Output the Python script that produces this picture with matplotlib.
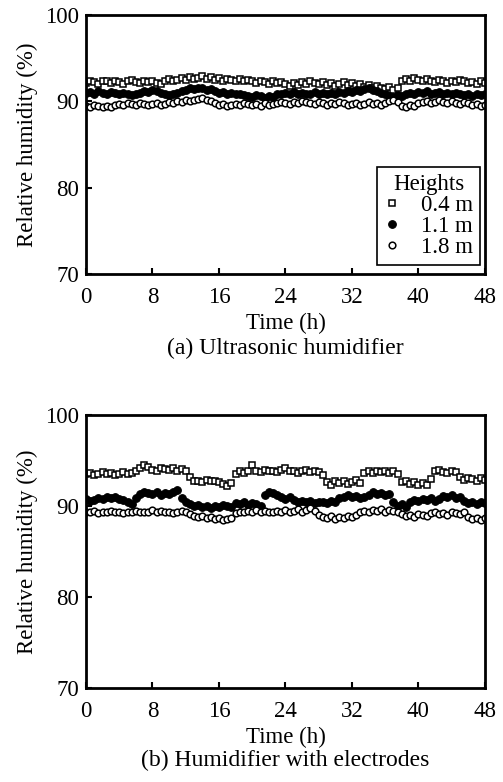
import matplotlib
matplotlib.use("Agg")
import matplotlib.pyplot as plt
import numpy as np

plt.rcParams['font.family'] = ['Liberation Serif', 'DejaVu Serif']

# time axis (h), one reading every 30 min
time_h = np.arange(0, 48.5, 0.5)

# (a) Ultrasonic humidifier
a_04 = [92.1, 92.4, 92.2, 92.0, 92.3, 92.4, 92.1, 92.3,
        92.2, 92.0, 92.3, 92.5, 92.2, 92.1, 92.4, 92.2,
        92.3, 92.1, 92.0, 92.4, 92.6, 92.3, 92.5, 92.7,
        92.5, 92.8, 92.6, 92.7, 92.9, 92.6, 92.8, 92.5,
        92.7, 92.4, 92.6, 92.5, 92.3, 92.6, 92.4, 92.5,
        92.3, 92.1, 92.4, 92.2, 92.0, 92.3, 92.1, 92.2,
        92.0, 91.8, 92.1, 91.9, 92.2, 92.0, 92.3, 92.1,
        92.0, 92.2, 91.9, 92.1, 91.8, 92.0, 92.2, 91.9,
        92.1, 91.8, 92.0, 91.7, 91.9, 91.6, 91.8, 91.5,
        91.4, 91.7, 91.3, 91.6, 92.3, 92.6, 92.4, 92.7,
        92.5, 92.3, 92.6, 92.4, 92.2, 92.5, 92.3, 92.1,
        92.4, 92.2, 92.5, 92.3, 92.1, 92.2, 92.0, 92.3,
        92.1]
a_11 = [91.0, 91.1, 90.9, 91.2, 91.0, 90.8, 91.1, 91.0,
        90.9, 91.0, 90.8, 90.7, 90.9, 91.0, 91.2, 91.1,
        91.3, 91.2, 91.0, 90.8, 90.7, 90.9, 91.0, 91.2,
        91.3, 91.5, 91.4, 91.6, 91.5, 91.3, 91.4, 91.2,
        91.0, 91.1, 90.9, 91.0, 90.8, 90.9, 90.7, 90.6,
        90.5, 90.7, 90.6, 90.4, 90.6, 90.5, 90.8, 90.9,
        91.0, 90.8, 91.1, 90.9, 91.0, 90.8, 90.9, 91.1,
        90.9, 91.0, 90.8, 91.0, 90.9, 91.1, 91.0, 91.2,
        91.1, 91.3, 91.2, 91.4, 91.5, 91.3, 91.2, 91.0,
        90.8, 90.6, 90.5, 90.7, 90.6, 90.8, 91.0, 90.9,
        91.1, 91.0, 91.2, 90.9, 91.0, 91.1, 90.9, 91.0,
        90.8, 91.0, 90.9, 90.7, 90.8, 90.6, 90.8, 90.7,
        90.8]
a_18 = [89.5, 89.4, 89.6, 89.5, 89.3, 89.5, 89.4, 89.6,
        89.7, 89.6, 89.8, 89.7, 89.6, 89.8, 89.7, 89.6,
        89.7, 89.8, 89.6, 89.7, 89.9, 89.8, 90.0, 89.9,
        90.1, 90.0, 90.2, 90.3, 90.4, 90.2, 90.0, 89.8,
        89.6, 89.7, 89.5, 89.6, 89.7, 89.6, 89.8, 89.7,
        89.6, 89.7, 89.5, 89.8, 89.6, 89.7, 89.8, 89.9,
        89.8, 89.7, 89.9, 89.8, 90.0, 89.9, 89.8, 89.7,
        89.9, 89.8, 89.6, 89.8, 89.7, 89.9, 89.8, 89.6,
        89.7, 89.8, 89.6, 89.7, 89.9, 89.7, 89.8, 89.6,
        89.8, 90.0, 90.1, 89.9, 89.5, 89.4, 89.6, 89.5,
        89.8, 89.9, 90.0, 89.8, 89.9, 90.1, 89.9, 89.8,
        90.0, 89.8, 89.7, 89.9, 89.8, 89.6, 89.7, 89.5,
        89.6]

# (b) Humidifier with electrodes
b_04 = [93.5, 93.6, 93.4, 93.5, 93.7, 93.5, 93.6, 93.4,
        93.5, 93.7, 93.5, 93.6, 93.9, 94.2, 94.5, 94.3,
        94.0, 93.9, 94.2, 94.1, 94.0, 94.2, 93.9, 94.1,
        93.8, 93.2, 92.7, 92.8, 92.6, 92.9, 92.7, 92.8,
        92.6, 92.4, 92.2, 92.5, 93.5, 93.8, 93.6, 93.9,
        94.5, 93.9, 93.7, 94.0, 93.8, 93.9, 93.7, 94.0,
        94.2, 93.8, 93.9, 93.6, 93.8, 94.0, 93.7, 93.9,
        93.7, 93.4, 92.6, 92.3, 92.8, 92.5, 92.7, 92.4,
        92.6, 92.9, 92.5, 93.6, 93.8, 93.6, 93.9, 93.7,
        93.9, 93.6, 93.8, 93.5, 92.6, 92.8, 92.4, 92.6,
        92.3, 92.5, 92.3, 93.0, 93.8, 94.0, 93.7, 93.6,
        93.9, 93.7, 93.2, 92.9, 93.1, 93.0, 92.8, 93.1,
        92.9]
b_11 = [90.8, 90.6, 90.7, 90.9, 90.8, 91.0, 90.9, 91.0,
        90.8, 90.7, 90.5, 90.2, 90.9, 91.3, 91.6, 91.4,
        91.3, 91.5, 91.2, 91.4, 91.3, 91.6, 91.8, 90.9,
        90.4, 90.2, 90.0, 90.1, 89.9, 90.0, 89.8, 90.0,
        89.9, 90.1, 90.0, 89.9, 90.3, 90.2, 90.4, 90.1,
        90.3, 90.2, 90.0, 91.2, 91.5, 91.4, 91.2, 91.0,
        90.8, 91.0, 90.7, 90.5, 90.6, 90.4, 90.6, 90.3,
        90.5, 90.4, 90.3, 90.6, 90.5, 90.9, 91.0, 91.2,
        91.0, 91.1, 90.9, 91.0, 91.2, 91.5, 91.3, 91.4,
        91.2, 91.3, 90.4, 90.0, 90.2, 89.9, 90.4, 90.7,
        90.6, 90.8, 90.7, 90.9, 90.6, 90.8, 91.1, 91.0,
        91.2, 90.9, 91.0, 90.6, 90.3, 90.4, 90.2, 90.4,
        90.3]
b_18 = [89.4, 89.3, 89.5, 89.2, 89.4, 89.3, 89.5, 89.3,
        89.4, 89.2, 89.4, 89.3, 89.5, 89.4, 89.3, 89.4,
        89.6, 89.4, 89.5, 89.3, 89.4, 89.2, 89.3, 89.5,
        89.3, 89.1, 88.9, 88.8, 88.9, 88.7, 88.8, 88.6,
        88.7, 88.5, 88.6, 88.7, 89.2, 89.4, 89.3, 89.5,
        89.4, 89.6, 89.3, 89.5, 89.4, 89.3, 89.5, 89.4,
        89.6, 89.3, 89.5, 89.7, 89.4, 89.6, 89.8, 89.5,
        89.0, 88.8, 88.7, 88.9, 88.6, 88.8, 88.7, 88.9,
        88.8, 89.0, 89.3, 89.5, 89.4, 89.6, 89.5, 89.7,
        89.4, 89.6, 89.5, 89.3, 89.1, 88.9, 89.0, 88.8,
        89.1, 89.0, 88.9, 89.2, 89.3, 89.1, 89.2, 89.0,
        89.3, 89.2, 89.1, 89.3, 88.8, 88.6, 88.7, 88.5,
        88.7]

height_labels = ["0.4 m", "1.1 m", "1.8 m"]
x_ticks = [0, 8, 16, 24, 32, 40, 48]
y_ticks = [70, 80, 90, 100]
captions = ["(a) Ultrasonic humidifier", "(b) Humidifier with electrodes"]

FS = 16.5

fig = plt.figure(figsize=(5.03, 7.82), dpi=100)
ax_a = fig.add_axes([0.171, 0.6496, 0.793, 0.3312])
ax_b = fig.add_axes([0.171, 0.1202, 0.793, 0.349])


def draw_panel(ax, s04, s11, s18, caption, y_caption, legend=False):
    ax.plot(time_h, s04, linestyle="none", marker="s", markersize=4.8,
            markerfacecolor="white", markeredgecolor="black",
            markeredgewidth=1.1, label=height_labels[0])
    ax.plot(time_h, s11, linestyle="none", marker="o", markersize=5.5,
            markerfacecolor="black", markeredgecolor="black",
            markeredgewidth=0.8, label=height_labels[1])
    ax.plot(time_h, s18, linestyle="none", marker="o", markersize=4.8,
            markerfacecolor="white", markeredgecolor="black",
            markeredgewidth=1.1, label=height_labels[2])

    ax.set_xlim(0, 48)
    ax.set_ylim(70, 100)
    ax.set_xticks(x_ticks)
    ax.set_yticks(y_ticks)
    ax.tick_params(axis="x", pad=9)
    ax.tick_params(axis="y", pad=5)
    ax.tick_params(direction="in", length=4, width=1.5, labelsize=FS,
                   top=False, right=False)
    for sp in ax.spines.values():
        sp.set_linewidth(2.0)
    ax.set_xlabel("Time (h)", fontsize=FS, labelpad=4)
    ax.set_ylabel("Relative humidity (%)", fontsize=FS, labelpad=5)
    fig.text(0.5675, y_caption, caption, ha="center", va="center",
             fontsize=FS + 0.5)

    if legend:
        leg = ax.legend(title="Heights", loc="lower right",
                        bbox_to_anchor=(0.987, 0.035), borderaxespad=0,
                        fontsize=FS, title_fontsize=FS, fancybox=False,
                        framealpha=1, edgecolor="black", handlelength=0.7,
                        handletextpad=0.9, borderpad=0.3, labelspacing=0.0)
        leg.get_frame().set_linewidth(1.2)


draw_panel(ax_a, a_04, a_11, a_18, captions[0], 1 - 348 / 782, legend=True)
draw_panel(ax_b, b_04, b_11, b_18, captions[1], 1 - 760 / 782)

fig.savefig("out.png", dpi=100)
